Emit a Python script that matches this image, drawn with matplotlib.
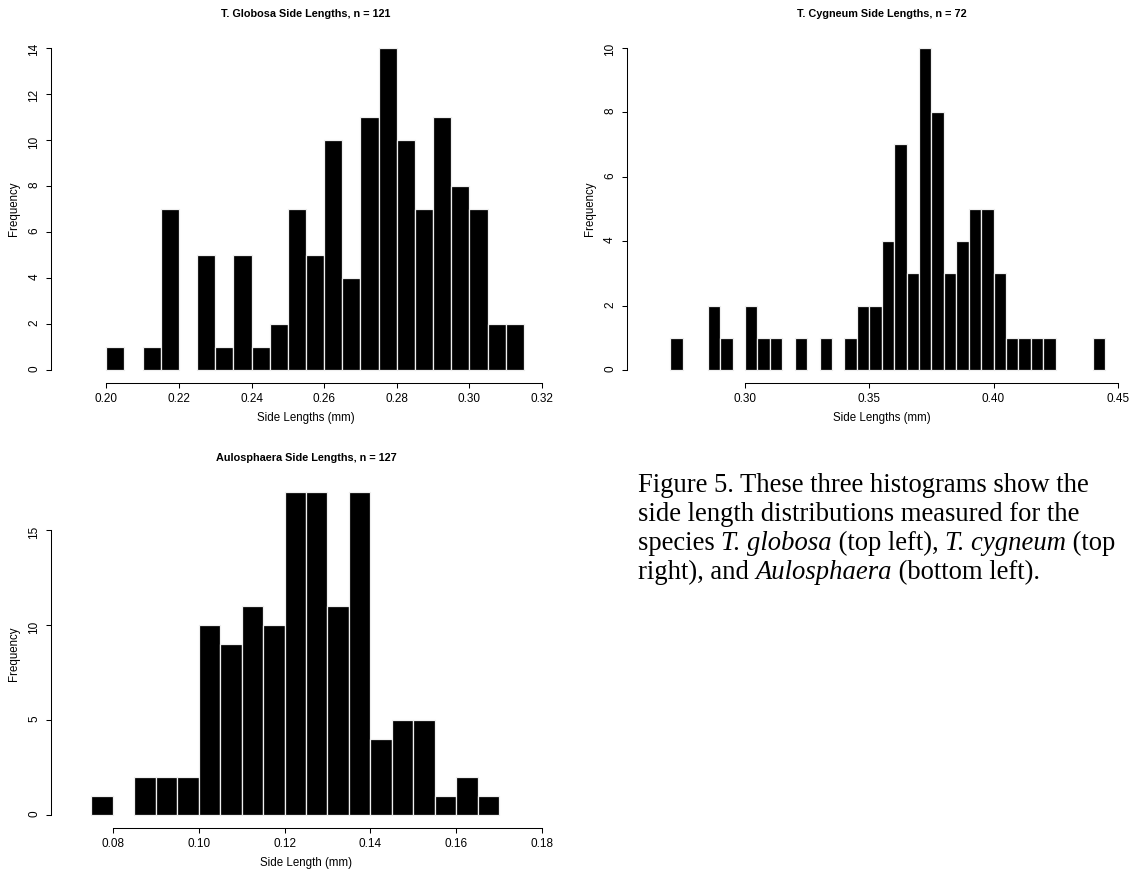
import numpy as np
import matplotlib

matplotlib.use("Agg")  # Non-interactive backend
import matplotlib.pyplot as plt
from matplotlib.font_manager import FontProperties

plt.rcParams["font.family"] = ["Liberation Sans", "DejaVu Sans"]

BIN_WIDTH = 0.005

# T. globosa, bins of 0.005 mm starting at 0.200
globosa_start = 0.200
globosa_counts = [1, 0, 1, 7, 0, 5, 1, 5, 1, 2, 7, 5, 10, 4, 11, 14, 10, 7, 11, 8, 7, 2, 2]
globosa_xlim = (0.19, 0.32)
globosa_xticks = [0.20, 0.22, 0.24, 0.26, 0.28, 0.30, 0.32]
globosa_yticks = [0, 2, 4, 6, 8, 10, 12, 14]

# T. cygneum, bins starting at 0.270
cygneum_start = 0.270
cygneum_counts = [1, 0, 0, 2, 1, 0, 2, 1, 1, 0, 1, 0, 1, 0, 1, 2, 2, 4, 7, 3,
                  10, 8, 3, 4, 5, 5, 3, 1, 1, 1, 1, 0, 0, 0, 1]
cygneum_xlim = (0.26, 0.45)
cygneum_xticks = [0.30, 0.35, 0.40, 0.45]
cygneum_yticks = [0, 2, 4, 6, 8, 10]

# Aulosphaera, bins starting at 0.075
aulo_start = 0.075
aulo_counts = [1, 0, 2, 2, 2, 10, 9, 11, 10, 17, 17, 11, 17, 4, 5, 5, 1, 2, 1]
aulo_xlim = (0.07, 0.18)
aulo_xticks = [0.08, 0.10, 0.12, 0.14, 0.16, 0.18]
aulo_yticks = [0, 5, 10, 15]

caption_lines = [
    [("Figure 5. These three histograms show the", "normal")],
    [("side length distributions measured for the", "normal")],
    [("species ", "normal"), ("T. globosa", "italic"), (" (top left), ", "normal"),
     ("T. cygneum", "italic"), (" (top", "normal")],
    [("right), and ", "normal"), ("Aulosphaera", "italic"), (" (bottom left).", "normal")],
]

FIG_W, FIG_H = 1134, 876
fig = plt.figure(figsize=(FIG_W / 100, FIG_H / 100), dpi=100)


def px_axes(left, top, right, bottom):
    return fig.add_axes([left / FIG_W, 1 - bottom / FIG_H,
                         (right - left) / FIG_W, (bottom - top) / FIG_H])


def draw_hist(ax, start, counts, xlim, xticks, yticks, title, xlabel):
    counts = np.array(counts)
    edges = start + BIN_WIDTH * np.arange(len(counts))
    keep = counts > 0
    ax.bar(edges[keep], counts[keep], width=BIN_WIDTH, align="edge",
           color="black", edgecolor="#f0f0f0", linewidth=0.9)

    # R style axis extension (4%)
    xpad = 0.04 * (xlim[1] - xlim[0])
    ypad = 0.04 * counts.max()
    ax.set_xlim(xlim[0] - xpad, xlim[1] + xpad)
    ax.set_ylim(-ypad, counts.max() + ypad)

    for side in ["top", "right"]:
        ax.spines[side].set_visible(False)
    ax.spines["left"].set_bounds(yticks[0], yticks[-1])
    ax.spines["bottom"].set_bounds(xticks[0], xticks[-1])
    ax.spines["left"].set_linewidth(0.75)
    ax.spines["bottom"].set_linewidth(0.75)

    ax.set_xticks(xticks)
    ax.set_xticklabels([f"{t:.2f}" for t in xticks])
    ax.set_yticks(yticks)
    ax.set_yticklabels([str(t) for t in yticks])
    ax.tick_params(direction="out", length=3.6, width=0.75, labelsize=8.5, pad=4)
    ax.tick_params(axis="y", labelrotation=90)

    h = ax.get_position().height * FIG_H
    w = ax.get_position().width * FIG_W
    ax.text(0.5, 1 + 21 / h, title, transform=ax.transAxes, ha="center", va="center",
            fontsize=7.8, fontweight="bold")
    ax.text(0.5, -35 / h, xlabel, transform=ax.transAxes, ha="center", va="center",
            fontsize=8.3)
    ax.text(-37 / w, 0.5, "Frequency", transform=ax.transAxes, ha="center", va="center",
            rotation=90, fontsize=8.3)


ax1 = px_axes(51, 34.8, 561, 382.9)
draw_hist(ax1, globosa_start, globosa_counts, globosa_xlim, globosa_xticks, globosa_yticks,
          "T. Globosa Side Lengths, n = 121", "Side Lengths (mm)")

ax2 = px_axes(626.7, 34.8, 1136.7, 382.9)
draw_hist(ax2, cygneum_start, cygneum_counts, cygneum_xlim, cygneum_xticks, cygneum_yticks,
          "T. Cygneum Side Lengths, n = 72", "Side Lengths (mm)")

ax3 = px_axes(51, 479.1, 561, 827.9)
draw_hist(ax3, aulo_start, aulo_counts, aulo_xlim, aulo_xticks, aulo_yticks,
          "Aulosphaera Side Lengths, n = 127", "Side Length (mm)")

# Caption with mixed italic runs
renderer = fig.canvas.get_renderer()
cap_size = 19.2
baselines = [492, 521, 550, 579]
for line, base in zip(caption_lines, baselines):
    x = 638
    for piece, style in line:
        prop = FontProperties(family=["Liberation Serif", "DejaVu Serif"], style=style, size=cap_size)
        fig.text(x / FIG_W, 1 - base / FIG_H, piece, fontproperties=prop,
                 ha="left", va="baseline")
        w_piece, _, _ = renderer.get_text_width_height_descent(piece + "|", prop, ismath=False)
        w_bar, _, _ = renderer.get_text_width_height_descent("|", prop, ismath=False)
        x += w_piece - w_bar

fig.savefig("out.png", dpi=100)
